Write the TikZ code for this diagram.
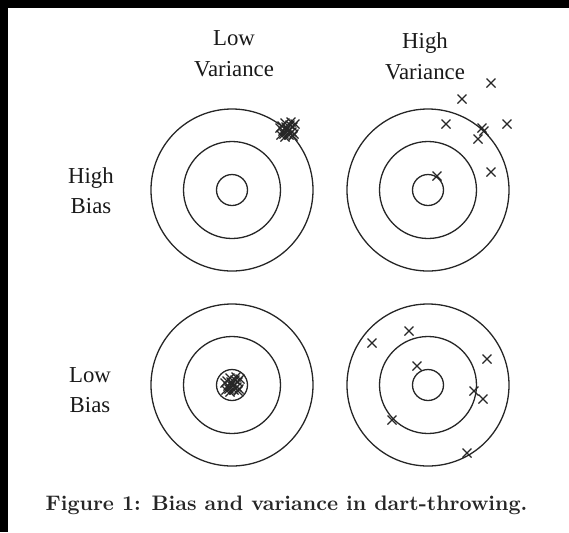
\documentclass[tikz,border=0pt]{standalone}
\usepackage{fontspec}
\newfontfamily\labelfont{Liberation Serif}
\usepackage{tikz}

\begin{document}
\begin{tikzpicture}[
    x=0.5pt, y=-0.5pt,
    ring/.style={draw=black!85, line width=0.65pt},
    dart/.style={draw=black!85, line width=0.55pt},
    lbl/.style={align=center, inner sep=0pt, font=\labelfont\fontsize{11.4}{15.3}\selectfont, text=black!90},
    capt/.style={inner sep=0pt, font=\fontsize{10.5}{12}\selectfont\bfseries, text=black!85}
]
\useasboundingbox (0,0) rectangle (569,532);
\fill[black] (0,0) rectangle (569,8);
\fill[black] (0,0) rectangle (8,532);

% target centres
\coordinate (hblv) at (232,190);
\coordinate (hbhv) at (428,190);
\coordinate (lblv) at (232,385);
\coordinate (lbhv) at (428,385);

\foreach \c in {hblv,hbhv,lblv,lbhv}{
  \draw[ring] (\c) circle[radius=81];
  \draw[ring] (\c) circle[radius=48.5];
  \draw[ring] (\c) circle[radius=15.5];
}

% labels
\node[lbl] (lowvar) at (234,54) {Low\\Variance};
\node[lbl] (highvar) at (425,56.5) {High\\Variance};
\node[lbl] (highbias) at (91,190.5) {High\\Bias};
\node[lbl] (lowbias) at (90,390) {Low\\Bias};

% darts: tight clusters
\foreach \dx/\dy in {0/0,3/-4,-4/2,5/3,-2/-6,6/-2,-5/-3,2/6,-3/5,4/-7,-6/6,7/5,1/2,-1/-2,-7/-1,6/7,-2/8,8/-5}{
  \draw[dart] (287+\dx-4.5,129+\dy-4.5) -- (287+\dx+4.5,129+\dy+4.5)
              (287+\dx-4.5,129+\dy+4.5) -- (287+\dx+4.5,129+\dy-4.5);
  \draw[dart] (232+\dx-4.5,384+\dy-4.5) -- (232+\dx+4.5,384+\dy+4.5)
              (232+\dx-4.5,384+\dy+4.5) -- (232+\dx+4.5,384+\dy-4.5);
}

% darts: scattered
\foreach \x/\y in {491/83,462/99,446/124,482/128,484/131,507/124,478/139,491/172,437/176,
                   372/343,409/331,487/359,417/366,474/391,483/399,392/420,467/453}{
  \draw[dart] (\x-4.5,\y-4.5) -- (\x+4.5,\y+4.5) (\x-4.5,\y+4.5) -- (\x+4.5,\y-4.5);
}

\node[capt, anchor=base] (caption) at (286.5,510.7) {Figure 1: Bias and variance in dart-throwing.};
\end{tikzpicture}
\end{document}
